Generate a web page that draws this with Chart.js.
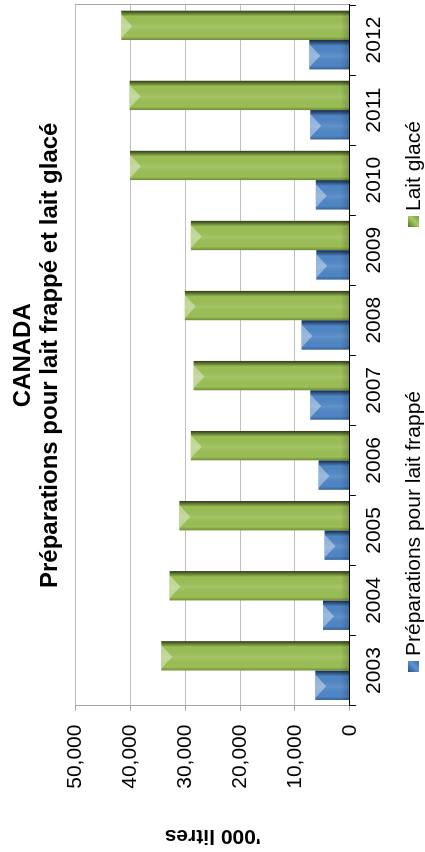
<!DOCTYPE html>
<html>
<head>
<meta charset="utf-8">
<script src="https://cdn.jsdelivr.net/npm/chart.js@4/dist/chart.umd.min.js"></script>
<style>
    html, body { margin: 0; padding: 0; background: #fff; }
    body { width: 425px; height: 852px; overflow: hidden; position: relative; }
    /* the chart is laid out as a normal column chart, then turned a quarter turn */
    #wrap {
        position: absolute; left: 0; top: 0;
        width: 852px; height: 425px;
        transform-origin: 0 0;
        transform: translateY(852px) rotate(-90deg);
        font-family: "Liberation Sans", Arial, sans-serif;
    }
    #chart { position: absolute; left: 0; top: 0; }
    .legend-item {
        position: absolute; top: 402px;
        font-size: 21px; line-height: 21px; color: #000; white-space: nowrap;
    }
    .legend-box {
        display: inline-block; width: 11px; height: 11px;
        margin-right: 5px; vertical-align: 1px;
    }
</style>
</head>
<body>
<div id="wrap">
    <canvas id="chart" width="852" height="425"></canvas>
    <div id="legend"></div>
</div>
<script>
const years = ['2003', '2004', '2005', '2006', '2007', '2008', '2009', '2010', '2011', '2012'];
const preparations = [6300, 4900, 4600, 5700, 7200, 8800, 6100, 6200, 7200, 7400];
const laitGlace = [34400, 32900, 31100, 29000, 28500, 30100, 29000, 40100, 40200, 41700];
const seriesNames = ['Préparations pour lait frappé', 'Lait glacé'];
const titleLines = ['CANADA', 'Préparations pour lait frappé et lait glacé'];
const axisTitle = "'000 litres";
const axisMax = 50000;
const axisStep = 10000;

const FONT = '"Liberation Sans", Arial, sans-serif';
Chart.defaults.color = '#000';
Chart.defaults.font.family = FONT;

// keep the title centred over the plot, not over the whole canvas
const centreTitle = {
    id: 'centreTitle',
    afterLayout(chart) {
        if (chart.titleBlock) {
            chart.titleBlock.left = chart.chartArea.left;
            chart.titleBlock.right = chart.chartArea.right;
        }
    }
};

// rough imitation of the bevelled bars
const bevel = {
    id: 'bevel',
    afterDatasetsDraw(chart) {
        const ctx = chart.ctx;
        chart.data.datasets.forEach((ds, i) => {
            const meta = chart.getDatasetMeta(i);
            meta.data.forEach(bar => {
                const p = bar.getProps(['x', 'y', 'base', 'width'], true);
                const l = p.x - p.width / 2, r = p.x + p.width / 2;
                const t = Math.min(p.y, p.base), b = Math.max(p.y, p.base);
                const w = r - l, h = b - t;
                ctx.save();
                ctx.beginPath();
                ctx.rect(l, t, w, h);
                ctx.clip();

                const g = ctx.createLinearGradient(l, 0, r, 0);
                g.addColorStop(0, 'rgba(0,0,0,0.28)');
                g.addColorStop(0.12, 'rgba(0,0,0,0)');
                g.addColorStop(0.45, 'rgba(255,255,255,0.10)');
                g.addColorStop(0.8, 'rgba(0,0,0,0)');
                g.addColorStop(0.9, 'rgba(0,0,0,0.35)');
                g.addColorStop(1, 'rgba(0,0,0,0.7)');
                ctx.fillStyle = g;
                ctx.fillRect(l, t, w, h);

                const gb = ctx.createLinearGradient(0, b - 9, 0, b);
                gb.addColorStop(0, 'rgba(0,0,0,0)');
                gb.addColorStop(1, 'rgba(0,0,0,0.18)');
                ctx.fillStyle = gb;
                ctx.fillRect(l, b - 9, w, 9);

                ctx.beginPath();
                ctx.moveTo(l + 2, t);
                ctx.lineTo(r - 4, t);
                ctx.lineTo(p.x - 1, t + 11);
                ctx.closePath();
                ctx.fillStyle = 'rgba(255,255,255,0.38)';
                ctx.fill();
                ctx.restore();
            });
        });
    }
};

const colors = ['#4f86c6', '#9bbf55'];

const chart = new Chart(document.getElementById('chart'), {
    type: 'bar',
    data: {
        labels: years,
        datasets: [{
            label: seriesNames[0],
            data: preparations,
            backgroundColor: colors[0],
            categoryPercentage: 0.84,
            barPercentage: 1.0
        }, {
            label: seriesNames[1],
            data: laitGlace,
            backgroundColor: colors[1],
            categoryPercentage: 0.84,
            barPercentage: 1.0
        }]
    },
    options: {
        responsive: false,
        animation: false,
        layout: { padding: { top: 0, right: 5, bottom: 32, left: 0 } },
        plugins: {
            legend: { display: false },
            tooltip: { enabled: false },
            title: {
                display: true,
                text: titleLines,
                color: '#000',
                font: { size: 24, weight: 'bold', lineHeight: 1.125 },
                padding: { top: 10, bottom: 11.7 }
            }
        },
        scales: {
            x: {
                grid: {
                    offset: true,
                    drawOnChartArea: false,
                    drawTicks: true,
                    tickLength: 6,
                    tickColor: '#000'
                },
                border: { display: true, color: '#000', width: 1, z: 1 },
                ticks: { font: { size: 21 }, padding: 6, maxRotation: 0 }
            },
            y: {
                min: 0,
                max: axisMax,
                ticks: {
                    stepSize: axisStep,
                    font: { size: 21 },
                    padding: 14,
                    callback: v => v.toLocaleString('en-US')
                },
                grid: {
                    color: ctx => ctx.tick && ctx.tick.value === 0 ? 'rgba(0,0,0,0)' : '#c0c0c0',
                    tickColor: '#a6a6a6',
                    tickLength: 5
                },
                border: { display: true, color: '#a6a6a6' },
                title: {
                    display: true,
                    text: axisTitle,
                    font: { size: 21, weight: 'bold' },
                    padding: { top: 4, bottom: 20 }
                }
            },
            y2: {
                position: 'right',
                min: 0,
                max: axisMax,
                ticks: { display: false },
                grid: { display: false, drawTicks: false },
                border: { display: true, color: '#a6a6a6' }
            }
        }
    },
    plugins: [centreTitle, bevel]
});

// legend in HTML: the original spreads its two entries far apart
const legendLeft = [180, 625];
const legendBox = [
    'linear-gradient(135deg, #2c4f86 0%, #5b93d6 55%, #3a6aa8 100%)',
    'linear-gradient(135deg, #55702a 0%, #a6cb62 55%, #7a9a3e 100%)'
];
const legendDiv = document.getElementById('legend');
chart.data.datasets.forEach((ds, i) => {
    const item = document.createElement('div');
    item.className = 'legend-item';
    item.style.left = legendLeft[i] + 'px';
    const box = document.createElement('span');
    box.className = 'legend-box';
    box.style.background = legendBox[i];
    item.appendChild(box);
    item.appendChild(document.createTextNode(ds.label));
    legendDiv.appendChild(item);
});
</script>
</body>
</html>
